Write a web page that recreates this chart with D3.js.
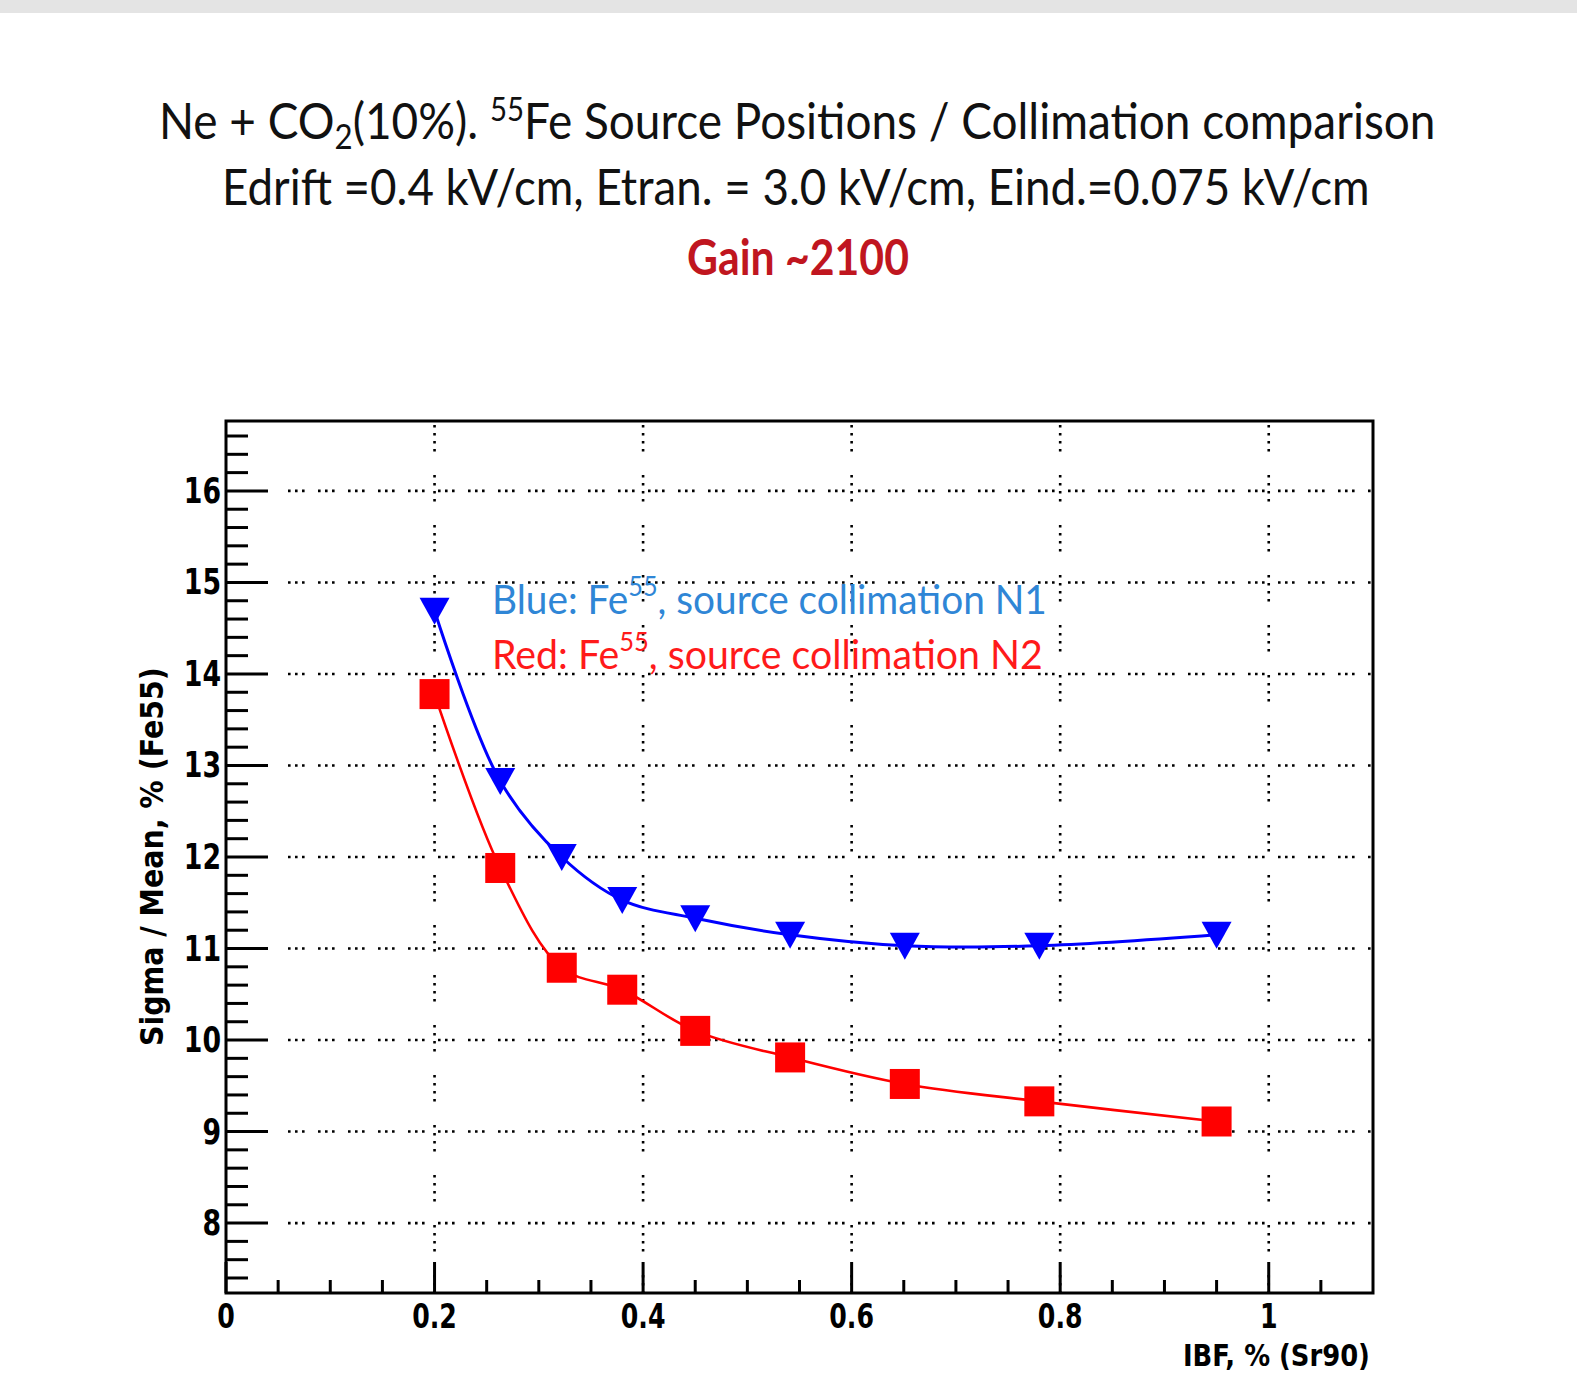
<!DOCTYPE html>
<html>
<head>
<meta charset="utf-8">
<script src="https://cdn.jsdelivr.net/npm/d3@7"></script>
<style>
  html, body { margin: 0; padding: 0; background: #fff; }
  svg { display: block; }
</style>
</head>
<body>
<div id="chart"></div>
<script>
// data
const ibf = [0.2, 0.263, 0.322, 0.38, 0.45, 0.541, 0.651, 0.78, 0.95];
const blueN1 = [14.69, 12.83, 12.0, 11.53, 11.33, 11.15, 11.03, 11.03, 11.15];
const redN2 = [13.78, 11.88, 10.79, 10.55, 10.10, 9.81, 9.52, 9.33, 9.11];

const xMajor = [0, 0.2, 0.4, 0.6, 0.8, 1];
const xLabels = ["0", "0.2", "0.4", "0.6", "0.8", "1"];
const yMajor = [8, 9, 10, 11, 12, 13, 14, 15, 16];

const width = 1577, height = 1375;
const frame = { left: 226, right: 1373, top: 421, bottom: 1293 };

const svg = d3.select("#chart").append("svg")
  .attr("width", width)
  .attr("height", height);

// grey strip at the very top of the slide
svg.append("rect")
  .attr("x", 0).attr("y", 0)
  .attr("width", width).attr("height", 13)
  .attr("fill", "#e4e4e4");

// scales
const x = d3.scaleLinear().domain([0, 1.1]).range([frame.left, frame.right]);
const y = d3.scaleLinear().domain([7.236, 16.764]).range([frame.bottom, frame.top]);

// stretch/squeeze a text so it spans [left, right]
function fit(t, left, right) {
  const w = t.node().getBBox().width;
  t.attr("x", 0).attr("transform", `translate(${left},0) scale(${(right - left) / w},1)`);
}

const titleFont = "Lato, 'Open Sans', sans-serif";
const rootFont = "'Liberation Sans Narrow', 'DejaVu Sans Condensed', 'Liberation Sans', sans-serif";

// title block
const t1 = svg.append("text")
  .attr("y", 139)
  .attr("font-family", titleFont)
  .attr("font-size", 50)
  .attr("fill", "#111");
t1.append("tspan").text("Ne + CO");
t1.append("tspan").attr("font-size", 34).attr("dy", 10).text("2");
t1.append("tspan").attr("dy", -10).text("(10%).  ");
t1.append("tspan").attr("font-size", 32).attr("dy", -18).text("55");
t1.append("tspan").attr("dy", 18).text("Fe Source Positions / Collimation comparison");
fit(t1, 159, 1436);

const t2 = svg.append("text")
  .attr("y", 205)
  .attr("font-family", titleFont)
  .attr("font-size", 50)
  .attr("fill", "#111")
  .text("Edrift =0.4 kV/cm,  Etran. = 3.0 kV/cm, Eind.=0.075 kV/cm");
fit(t2, 222, 1370);

const t3 = svg.append("text")
  .attr("y", 275)
  .attr("font-family", titleFont)
  .attr("font-size", 50)
  .attr("font-weight", "bold")
  .attr("fill", "#c0161f")
  .text("Gain ~2100");
fit(t3, 687, 909);

// grid
const grid = svg.append("g").attr("stroke", "#000").attr("stroke-width", 2.6);
grid.selectAll("line.v")
  .data(xMajor.filter(d => d > 0))
  .join("line")
  .attr("class", "v")
  .attr("x1", d => x(d)).attr("x2", d => x(d))
  .attr("y1", frame.top + 4).attr("y2", frame.bottom)
  .attr("stroke-dasharray", "2.6,5.4,2.6,5.4,2.6,5.4,2.6,23.4");
grid.selectAll("line.h")
  .data(yMajor)
  .join("line")
  .attr("class", "h")
  .attr("x1", frame.left + 62).attr("x2", frame.right)
  .attr("y1", d => y(d)).attr("y2", d => y(d))
  .attr("stroke-dasharray", "2.6,4.4,2.6,4.4,2.6,13.4");

// ticks
const ticks = svg.append("g").attr("stroke", "#000").attr("stroke-width", 3);
const yMinor = d3.range(0, 48).map(i => 7.4 + i * 0.2).filter(v => v < 16.76 && Math.abs(v - Math.round(v)) > 0.01);
ticks.selectAll("line.ym")
  .data(yMinor)
  .join("line")
  .attr("x1", frame.left).attr("x2", frame.left + 22)
  .attr("y1", d => y(d)).attr("y2", d => y(d));
ticks.selectAll("line.yM")
  .data(yMajor)
  .join("line")
  .attr("x1", frame.left).attr("x2", frame.left + 42)
  .attr("y1", d => y(d)).attr("y2", d => y(d));
const xMinor = d3.range(1, 22).map(i => i * 0.05).filter(v => Math.abs(v * 5 - Math.round(v * 5)) > 0.01);
ticks.selectAll("line.xm")
  .data(xMinor)
  .join("line")
  .attr("x1", d => x(d)).attr("x2", d => x(d))
  .attr("y1", frame.bottom).attr("y2", frame.bottom - 13);
ticks.selectAll("line.xM")
  .data(xMajor)
  .join("line")
  .attr("x1", d => x(d)).attr("x2", d => x(d))
  .attr("y1", frame.bottom).attr("y2", frame.bottom - 31);

// frame
svg.append("rect")
  .attr("x", frame.left).attr("y", frame.top)
  .attr("width", frame.right - frame.left)
  .attr("height", frame.bottom - frame.top)
  .attr("fill", "none")
  .attr("stroke", "#000")
  .attr("stroke-width", 3);

// tick labels (narrowed to match the condensed look)
svg.append("g")
  .selectAll("text")
  .data(yMajor)
  .join("text")
  .attr("transform", d => `translate(221,${y(d) + 12}) scale(0.85,1)`)
  .attr("text-anchor", "end")
  .attr("font-family", rootFont)
  .attr("font-weight", "bold")
  .attr("font-size", 35)
  .text(d => d);

svg.append("g")
  .selectAll("text")
  .data(xMajor)
  .join("text")
  .attr("transform", d => `translate(${x(d)},1328) scale(0.85,1)`)
  .attr("text-anchor", "middle")
  .attr("font-family", rootFont)
  .attr("font-weight", "bold")
  .attr("font-size", 33)
  .text((d, i) => xLabels[i]);

// axis titles
const xt = svg.append("text")
  .attr("y", 1366)
  .attr("font-family", rootFont)
  .attr("font-weight", "bold")
  .attr("font-size", 30)
  .text("IBF, % (Sr90)");
fit(xt, 1183, 1370);

const yg = svg.append("g").attr("transform", "translate(163,1046) rotate(-90)");
const yt = yg.append("text")
  .attr("y", 0)
  .attr("font-family", rootFont)
  .attr("font-weight", "bold")
  .attr("font-size", 32)
  .text("Sigma / Mean, % (Fe55)");
fit(yt, 0, 379);

// curves
const curve = d3.line()
  .x(d => x(d[0]))
  .y(d => y(d[1]))
  .curve(d3.curveCatmullRom.alpha(0.5));

svg.append("path")
  .datum(d3.zip(ibf, blueN1))
  .attr("d", curve)
  .attr("fill", "none")
  .attr("stroke", "#0000ff")
  .attr("stroke-width", 3);

svg.append("path")
  .datum(d3.zip(ibf, redN2))
  .attr("d", curve)
  .attr("fill", "none")
  .attr("stroke", "#ff0000")
  .attr("stroke-width", 2.6);

// markers
svg.append("g")
  .selectAll("rect")
  .data(d3.zip(ibf, redN2))
  .join("rect")
  .attr("x", d => x(d[0]) - 15)
  .attr("y", d => y(d[1]) - 15)
  .attr("width", 30).attr("height", 30)
  .attr("fill", "#ff0000");

svg.append("g")
  .selectAll("path")
  .data(d3.zip(ibf, blueN1))
  .join("path")
  .attr("transform", d => `translate(${x(d[0])},${y(d[1])})`)
  .attr("d", "M-15,-13L15,-13L0,14Z")
  .attr("fill", "#0000ff");

// legend text inside the frame
const l1 = svg.append("text")
  .attr("y", 614)
  .attr("font-family", titleFont)
  .attr("font-size", 40)
  .attr("fill", "#2f86d6");
l1.append("tspan").text("Blue: Fe");
l1.append("tspan").attr("font-size", 26).attr("dy", -18).text("55");
l1.append("tspan").attr("dy", 18).text(", source collimation N1");
fit(l1, 492, 1047);

const l2 = svg.append("text")
  .attr("y", 669)
  .attr("font-family", titleFont)
  .attr("font-size", 40)
  .attr("fill", "#ff1a1a");
l2.append("tspan").text("Red:  Fe");
l2.append("tspan").attr("font-size", 26).attr("dy", -18).text("55");
l2.append("tspan").attr("dy", 18).text(", source collimation  N2");
fit(l2, 492, 1043);
</script>
</body>
</html>
